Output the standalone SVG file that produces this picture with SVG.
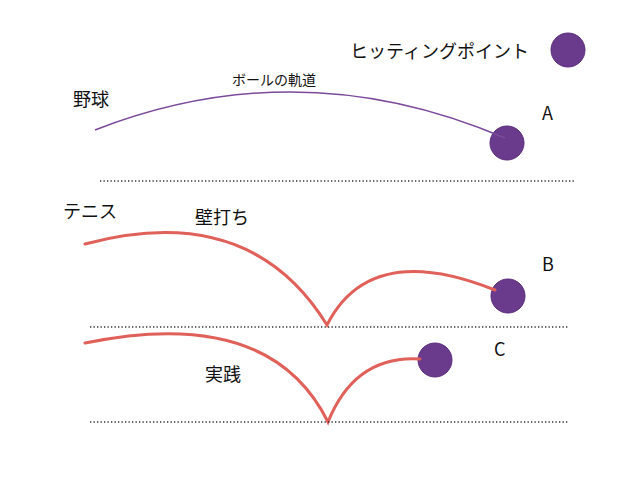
<svg xmlns="http://www.w3.org/2000/svg" width="640" height="480" viewBox="0 0 640 480">
<style>
text{font-family:"Noto Sans CJK JP","Liberation Sans",sans-serif;fill:#111}
.l{font-size:18px}.s{font-size:14px}
.ball{fill:#6a3a8c;stroke:#5a2d7a;stroke-width:1}
.dot{stroke:#333;stroke-width:1.3;stroke-dasharray:1.3 2.2;fill:none}
.red{stroke:#e0605a;stroke-width:3;fill:none;stroke-linecap:round}
</style>
<rect width="640" height="480" fill="#fff"/>
<g id="legend"><text class="l" x="350" y="58">ヒッティングポイント</text><circle class="ball" cx="568" cy="50" r="17"/></g>
<g id="baseball">
<text class="l" x="73" y="106">野球</text>
<text class="s" x="232" y="85">ボールの軌道</text>
<text class="l" x="542" y="120">A</text>
<circle class="ball" cx="507" cy="143" r="17"/>
</g>
<g id="tennis-wall">
<text class="l" x="63" y="218">テニス</text>
<text class="l" x="195" y="224">壁打ち</text>
<text class="l" x="542" y="271">B</text>
<circle class="ball" cx="508" cy="296" r="17"/>
</g>
<g id="tennis-real">
<text class="l" x="205" y="381">実践</text>
<text class="l" x="494" y="356">C</text>
<circle class="ball" cx="435" cy="360" r="17"/>
</g>
<g id="connectors">
<path d="M95,130 Q300,50 505,138" stroke="#7b4a9b" stroke-width="1.5" fill="none"/>
<line class="dot" x1="100" y1="181" x2="575" y2="181"/>
<path class="red" d="M85,244 Q250,200 327,325 Q370,240 495,290"/>
<line class="dot" x1="90" y1="327" x2="568" y2="327"/>
<path class="red" d="M85,343 Q270,305 328,422 Q355,355 420,359"/>
<line class="dot" x1="90" y1="422" x2="568" y2="422"/>
</g>
</svg>
